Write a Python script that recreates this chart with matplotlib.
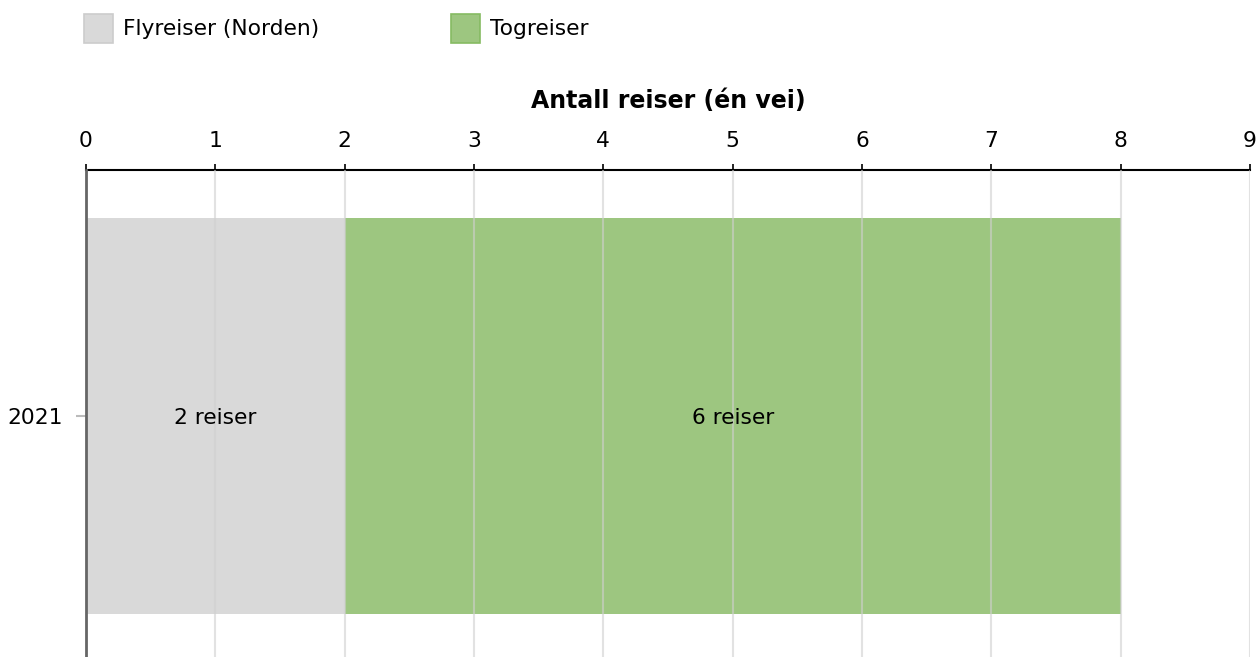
import matplotlib.pyplot as plt
from matplotlib.patches import Rectangle

# ------------------------------------------------------------------ data
years = ["2021"]
series_names = ["Flyreiser (Norden)", "Togreiser"]
fly_values = [2]
tog_values = [6]
colors = ["#d9d9d9", "#9dc680"]
edge_colors = ["#cccccc", "#86bb62"]

FS = 15.7
plt.rcParams["font.family"] = ["DejaVu Sans"]
plt.rcParams["font.size"] = FS

fig = plt.figure(figsize=(12.56, 6.57), dpi=100)
ax = fig.add_axes([0.0685, -0.0076, 0.9267, 0.7489])

# ------------------------------------------------------------------ bars
y_pos = range(len(years))
left = [0] * len(years)
for values, color, name in zip([fly_values, tog_values], colors, series_names):
    bars = ax.barh(y_pos, values, left=left, height=0.805, color=color,
                   zorder=1, label=name)
    for b, v in zip(bars, values):
        ax.text(b.get_x() + b.get_width() / 2, b.get_y() + b.get_height() / 2 + 0.004,
                f"{v} reiser", ha="center", va="center", fontsize=FS, zorder=3)
    left = [l + v for l, v in zip(left, values)]

# ------------------------------------------------------------------ axes
ax.set_xlim(0, 9)
ax.set_ylim(-0.5, 0.5)
ax.invert_yaxis()
ax.set_xticks(range(10))
ax.xaxis.tick_top()
ax.xaxis.set_label_position("top")
ax.set_xlabel("Antall reiser (én vei)", fontweight="bold", fontsize=17, labelpad=16)
ax.tick_params(axis="x", direction="out", length=4.5, width=1.2, color="black",
               pad=9.5, labelsize=FS)
ax.set_yticks(list(y_pos))
ax.set_yticklabels(years)
ax.tick_params(axis="y", direction="out", length=7.5, width=1.5, color="#bbbbbb",
               pad=9, labelsize=FS)
ax.grid(axis="x", color="#d0d0d0", linewidth=1.5, alpha=0.6, zorder=2)
ax.set_axisbelow(False)
for s in ["right", "bottom"]:
    ax.spines[s].set_visible(False)
ax.spines["top"].set_linewidth(1.5)
ax.spines["left"].set_color("#666666")
ax.spines["left"].set_linewidth(2)
ax.spines["left"].set_zorder(5)
for line in ax.get_xgridlines():
    line.set_zorder(2)

# ------------------------------------------------------------------ legend
legend_x = [84, 451]
for x, name, color, ec in zip(legend_x, series_names, colors, edge_colors):
    fig.patches.append(Rectangle((x / 1256, 1 - 43 / 657), 29 / 1256, 29 / 657,
                                 transform=fig.transFigure, facecolor=color,
                                 edgecolor=ec, linewidth=1.2))
    fig.text((x + 39) / 1256, 1 - 29 / 657, name, ha="left", va="center",
             fontsize=FS)

fig.savefig("out.png", dpi=100)
